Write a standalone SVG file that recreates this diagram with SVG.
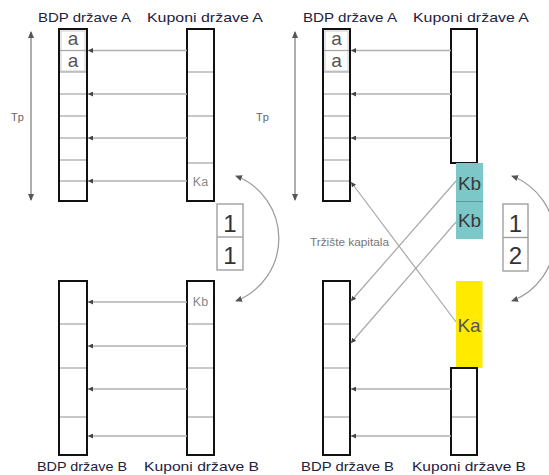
<svg xmlns="http://www.w3.org/2000/svg" width="549" height="475" viewBox="0 0 549 475">
<defs>
<style>
.title{font-family:"Liberation Sans",Arial,sans-serif;font-size:13px;fill:#1e2140;}
.col{fill:#fff;stroke:#111;stroke-width:2;}
.div{stroke:#aaa;stroke-width:1.3;}
.harr{stroke:#b0b0b0;stroke-width:1.3;fill:none;marker-end:url(#ah);}
.diag{stroke:#a8a8a8;stroke-width:1.2;fill:none;marker-end:url(#ah);}
.curve{stroke:#999;stroke-width:1.2;fill:none;marker-start:url(#ah2);marker-end:url(#ah2);}
.tp{stroke:#777;stroke-width:1.2;fill:none;marker-start:url(#ah2);marker-end:url(#ah2);}
.small{font-family:"Liberation Sans",Arial,sans-serif;font-size:12.5px;fill:#888;}
.big{font-family:"Liberation Sans",Arial,sans-serif;font-size:19px;fill:#3a3a3a;}
.aa{font-family:"Liberation Sans",Arial,sans-serif;font-size:19px;fill:#555;}
.num{font-family:"Liberation Sans",Arial,sans-serif;font-size:24px;fill:#333;}
.nbox{fill:#fff;stroke:#999;stroke-width:1.3;}
.acell{fill:none;stroke:#ccc;stroke-width:1;}
.tplab{font-family:"Liberation Sans",Arial,sans-serif;font-size:11px;fill:#666;}
.mkt{font-family:"Liberation Sans",Arial,sans-serif;font-size:10.5px;fill:#777;}
</style>
<marker id="ah" markerUnits="userSpaceOnUse" markerWidth="5" markerHeight="5" refX="5" refY="2.5" orient="auto"><path d="M0,0 L5,2.5 L0,5 z" fill="#444"/></marker>
<marker id="ah2" markerUnits="userSpaceOnUse" markerWidth="7" markerHeight="7" refX="6" refY="3.5" orient="auto-start-reverse"><path d="M0,0.5 L7,3.5 L0,6.5 z" fill="#555"/></marker>
</defs>
<rect width="549" height="475" fill="#fff"/>

<!-- LEFT PANEL -->
<g id="bdpA1">
<rect class="col" x="59" y="29" width="28" height="172"/>
<rect class="acell" x="61" y="31" width="24" height="40"/>
<line class="div" x1="60" y1="50.5" x2="86" y2="50.5"/>
<line class="div" x1="60" y1="72" x2="86" y2="72"/>
<line class="div" x1="60" y1="94" x2="86" y2="94"/>
<line class="div" x1="60" y1="116" x2="86" y2="116"/>
<line class="div" x1="60" y1="138" x2="86" y2="138"/>
<line class="div" x1="60" y1="160" x2="86" y2="160"/>
<line class="div" x1="60" y1="181" x2="86" y2="181"/>
<text class="aa" x="73" y="44.5" text-anchor="middle">a</text>
<text class="aa" x="73" y="66.5" text-anchor="middle">a</text>
<text class="title" x="38" y="21.5" textLength="93" lengthAdjust="spacingAndGlyphs">BDP države A</text>
</g>
<g id="kupA1">
<rect class="col" x="187" y="29" width="27" height="172"/>
<line class="div" x1="188" y1="72" x2="213" y2="72"/>
<line class="div" x1="188" y1="116" x2="213" y2="116"/>
<line class="div" x1="188" y1="163" x2="213" y2="163"/>
<text class="small" x="200.5" y="186" text-anchor="middle">Ka</text>
<text class="title" x="147" y="21.5" textLength="116" lengthAdjust="spacingAndGlyphs">Kuponi države A</text>
</g>
<g id="bdpB1">
<rect class="col" x="59" y="281" width="28" height="174"/>
<line class="div" x1="60" y1="324" x2="86" y2="324"/>
<line class="div" x1="60" y1="368" x2="86" y2="368"/>
<line class="div" x1="60" y1="417" x2="86" y2="417"/>
<text class="title" x="37" y="471" textLength="90" lengthAdjust="spacingAndGlyphs">BDP države B</text>
</g>
<g id="kupB1">
<rect class="col" x="187" y="281" width="27" height="174"/>
<line class="div" x1="188" y1="324" x2="213" y2="324"/>
<line class="div" x1="188" y1="368" x2="213" y2="368"/>
<line class="div" x1="188" y1="417" x2="213" y2="417"/>
<text class="small" x="200.5" y="306" text-anchor="middle">Kb</text>
<text class="title" x="144" y="471" textLength="115" lengthAdjust="spacingAndGlyphs">Kuponi države B</text>
</g>
<g id="ratio1">
<rect class="nbox" x="217" y="204" width="26" height="66"/>
<line class="nbox" x1="217" y1="237" x2="243" y2="237"/>
<text class="num" x="230" y="232" text-anchor="middle">1</text>
<text class="num" x="230" y="264" text-anchor="middle">1</text>
</g>
<g id="tp1">
<text class="tplab" x="11" y="121">Tp</text>
</g>

<!-- RIGHT PANEL -->
<g id="bdpA2">
<rect class="col" x="323" y="29" width="27" height="172"/>
<rect class="acell" x="325" y="31" width="23" height="40"/>
<line class="div" x1="324" y1="50.5" x2="349" y2="50.5"/>
<line class="div" x1="324" y1="72" x2="349" y2="72"/>
<line class="div" x1="324" y1="94" x2="349" y2="94"/>
<line class="div" x1="324" y1="116" x2="349" y2="116"/>
<line class="div" x1="324" y1="138" x2="349" y2="138"/>
<line class="div" x1="324" y1="160" x2="349" y2="160"/>
<line class="div" x1="324" y1="181" x2="349" y2="181"/>
<text class="aa" x="336.5" y="44.5" text-anchor="middle">a</text>
<text class="aa" x="336.5" y="66.5" text-anchor="middle">a</text>
<text class="title" x="303" y="21.5" textLength="94" lengthAdjust="spacingAndGlyphs">BDP države A</text>
</g>
<g id="kupA2">
<rect class="col" x="451" y="29" width="26" height="134"/>
<line class="div" x1="452" y1="72" x2="476" y2="72"/>
<line class="div" x1="452" y1="116" x2="476" y2="116"/>
<text class="title" x="413" y="21.5" textLength="116" lengthAdjust="spacingAndGlyphs">Kuponi države A</text>
</g>
<g id="kb2">
<rect x="456" y="163" width="27" height="76" fill="#7cc8c8"/>
<line x1="456" y1="201.5" x2="483" y2="201.5" stroke="#5a9a9a" stroke-width="1"/>
<text class="big" x="469.5" y="190" text-anchor="middle">Kb</text>
<text class="big" x="469.5" y="227" text-anchor="middle">Kb</text>
</g>
<g id="ka2">
<rect x="456" y="281" width="26.5" height="87" fill="#ffea00"/>
<text class="big" x="469" y="332" text-anchor="middle" style="fill:#555">Ka</text>
</g>
<g id="bdpB2">
<rect class="col" x="323" y="281" width="27" height="174"/>
<line class="div" x1="324" y1="324" x2="349" y2="324"/>
<line class="div" x1="324" y1="368" x2="349" y2="368"/>
<line class="div" x1="324" y1="417" x2="349" y2="417"/>
<text class="title" x="301" y="471" textLength="93" lengthAdjust="spacingAndGlyphs">BDP države B</text>
</g>
<g id="kupB2">
<rect class="col" x="451" y="368" width="26" height="87"/>
<line class="div" x1="452" y1="417" x2="476" y2="417"/>
<text class="title" x="412" y="471" textLength="114" lengthAdjust="spacingAndGlyphs">Kuponi države B</text>
</g>
<g id="ratio2">
<rect class="nbox" x="503" y="204" width="25" height="67"/>
<line class="nbox" x1="503" y1="237.5" x2="528" y2="237.5"/>
<text class="num" x="515.5" y="232" text-anchor="middle">1</text>
<text class="num" x="515.5" y="264" text-anchor="middle">2</text>
</g>
<g id="tp2">
<text class="tplab" x="256" y="121">Tp</text>
</g>
<g id="market">
<text class="mkt" x="310" y="246" textLength="79" lengthAdjust="spacingAndGlyphs">Tržište kapitala</text>
</g>

<!-- CONNECTORS -->
<g id="connectors">
<line class="tp" x1="31" y1="32" x2="31" y2="200"/>
<line class="tp" x1="295" y1="32" x2="295" y2="200"/>
<line class="harr" x1="187" y1="50.5" x2="88" y2="50.5"/>
<line class="harr" x1="187" y1="94" x2="88" y2="94"/>
<line class="harr" x1="187" y1="138" x2="88" y2="138"/>
<line class="harr" x1="187" y1="181" x2="88" y2="181"/>
<line class="harr" x1="187" y1="302" x2="88" y2="302"/>
<line class="harr" x1="187" y1="346" x2="88" y2="346"/>
<line class="harr" x1="187" y1="389" x2="88" y2="389"/>
<line class="harr" x1="187" y1="436" x2="88" y2="436"/>
<line class="harr" x1="451" y1="50.5" x2="351" y2="50.5"/>
<line class="harr" x1="451" y1="94" x2="351" y2="94"/>
<line class="harr" x1="451" y1="138" x2="351" y2="138"/>
<line class="harr" x1="451" y1="389" x2="351" y2="389"/>
<line class="harr" x1="451" y1="436" x2="351" y2="436"/>
<line class="diag" x1="456" y1="181" x2="351" y2="301"/>
<line class="diag" x1="456" y1="222" x2="351" y2="343"/>
<line class="diag" x1="456" y1="322" x2="351" y2="182"/>
<path class="curve" d="M236,176 A67,67 0 0 1 236,301"/>
<path class="curve" d="M512,176 A67,67 0 0 1 512,301"/>
</g>
</svg>
